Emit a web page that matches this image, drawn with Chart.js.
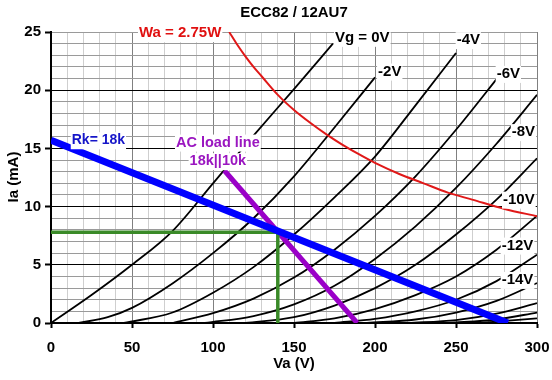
<!DOCTYPE html>
<html>
<head>
<meta charset="utf-8">
<script src="https://cdn.jsdelivr.net/npm/chart.js@4.4.1/dist/chart.umd.min.js"></script>
<style>
  html, body { margin: 0; padding: 0; background: #fff; }
  #wrap { width: 552px; height: 380px; }
</style>
</head>
<body>
<div id="wrap"><canvas id="tubeChart" width="552" height="380"></canvas></div>
<script>
// anode characteristics, [Va (V), Ia (mA)]
const vg0   = [[0,0],[25,2.4],[50,5],[75,7.9],[100,12],[125,16.1],[150,20.1],[174,24]];
const vg2   = [[17,0],[35,0.5],[50,1.3],[75,3.4],[100,6.0],[125,9.0],[150,12.6],[175,16.8],[200,21.1]];
const vg4   = [[45,0],[75,0.9],[100,2.6],[125,4.8],[150,7.6],[175,10.8],[200,14.3],[225,18.7],[250,23.2]];
const vg6   = [[75,0],[100,0.85],[125,2.1],[150,3.9],[175,6.3],[200,9.2],[225,12.6],[250,16.6],[277,21.3]];
const vg8   = [[95,0],[125,0.6],[150,1.6],[175,3.2],[200,5.5],[225,8.3],[250,11.6],[275,15.4],[300,19.6]];
const vg10  = [[120,0],[150,0.5],[175,1.5],[200,3.0],[225,5.0],[250,7.6],[275,10.6],[300,14.15]];
const vg12  = [[150,0],[175,0.4],[200,1.2],[225,2.4],[250,4.0],[275,6.3],[300,9.2]];
const vg14  = [[175,0],[200,0.35],[225,1.0],[250,2.0],[275,3.6],[300,5.86]];
const vg16  = [[195,0],[225,0.3],[250,0.9],[275,1.9],[300,3.43]];
const vg18  = [[220,0],[250,0.25],[275,0.8],[300,1.71]];
const vg20  = [[245,0],[275,0.3],[300,0.9]];
const vg22  = [[265,0],[300,0.4]];
const gridCurves = [vg0, vg2, vg4, vg6, vg8, vg10, vg12, vg14, vg16, vg18, vg20, vg22];

// max dissipation 2.75W
const wa275 = [[110,25],[115,23.9],[120,22.9],[125,22],[130,21.2],[140,19.6],[150,18.3],[160,17.2],[170,16.2],
               [180,15.3],[190,14.5],[200,13.75],[215,12.8],[230,12],[245,11.2],[260,10.6],[280,9.8],[300,9.17]];
const rkLine = [[0,15.7],[282,0]];          // cathode resistor line
const acLine = [[107,13.1],[189,0]];        // AC load line 18k||10k
const opPoint = [[0,7.8],[140,7.8],[140,0]]; // operating point

const notes = [
  {text: 'Vg = 0V', va: 175.3, ia: 24.5, color: '#000', align: 'left', size: 15},
  {text: '-2V', va: 201.9, ia: 21.6, color: '#000', align: 'left', size: 15},
  {text: '-4V', va: 250.4, ia: 24.3, color: '#000', align: 'left', size: 15},
  {text: '-6V', va: 275.1, ia: 21.4, color: '#000', align: 'left', size: 15},
  {text: '-8V', va: 284.4, ia: 16.4, color: '#000', align: 'left', size: 15},
  {text: '-10V', va: 279, ia: 10.6, color: '#000', align: 'left', size: 15},
  {text: '-12V', va: 278.2, ia: 6.65, color: '#000', align: 'left', size: 15},
  {text: '-14V', va: 278.2, ia: 3.7, color: '#000', align: 'left', size: 15},
  {text: 'Wa = 2.75W', va: 54.3, ia: 24.9, color: '#e01010', align: 'left', size: 15},
  {text: 'Rk= 18k', va: 12.8, ia: 15.7, color: '#1515c8', align: 'left', size: 14},
  {text: 'AC load line', va: 103, ia: 15.5, color: '#9a16c0', align: 'center', size: 14.5},
  {text: '18k||10k', va: 103, ia: 13.9, color: '#9a16c0', align: 'center', size: 14.5}
];

const FONT = '"Liberation Sans", Arial, sans-serif';
const pts = arr => arr.map(p => ({x: p[0], y: p[1]}));

const datasets = [
  {data: pts(rkLine), borderColor: '#0000ff', borderWidth: 7, tension: 0},
  {data: pts(opPoint), borderColor: '#3a8a28', borderWidth: 3.5, tension: 0},
  {data: pts(acLine), borderColor: '#9a00c8', borderWidth: 5, tension: 0},
  {data: pts(wa275), borderColor: '#e01818', borderWidth: 2, cubicInterpolationMode: 'monotone'}
];
gridCurves.forEach(c => {
  datasets.push({data: pts(c), borderColor: '#000', borderWidth: 1.8, cubicInterpolationMode: 'monotone'});
});
datasets.forEach(d => { d.showLine = true; d.pointRadius = 0; d.fill = false; });

const notesPlugin = {
  id: 'notes',
  afterDatasetsDraw(chart) {
    const {ctx, scales: {x, y}} = chart;
    ctx.save();
    ctx.textBaseline = 'middle';
    notes.forEach(n => {
      ctx.font = 'bold ' + n.size + 'px ' + FONT;
      const px = x.getPixelForValue(n.va);
      const py = y.getPixelForValue(n.ia);
      const w = ctx.measureText(n.text).width;
      const left = n.align === 'center' ? px - w / 2 : px;
      ctx.fillStyle = '#fff';
      ctx.fillRect(left - 1, py - 8, w + 2, 17);
      ctx.fillStyle = n.color;
      ctx.textAlign = n.align;
      ctx.fillText(n.text, px, py);
    });
    ctx.restore();
  },
  afterDraw(chart) {
    const {ctx, chartArea} = chart;
    const cx = (chartArea.left + chartArea.right) / 2;
    ctx.save();
    ctx.fillStyle = '#000';
    ctx.font = 'bold 15px ' + FONT;
    ctx.textAlign = 'center';
    ctx.textBaseline = 'middle';
    ctx.fillText('ECC82 / 12AU7', cx, 13);
    ctx.fillText('Va (V)', cx, 364);
    ctx.translate(14, 177);
    ctx.rotate(-Math.PI / 2);
    ctx.fillText('Ia (mA)', 0, 0);
    ctx.restore();
  }
};

new Chart(document.getElementById('tubeChart'), {
  type: 'scatter',
  data: {datasets: datasets},
  options: {
    responsive: false,
    animation: false,
    events: [],
    layout: {padding: {top: 32, right: 15, left: 0, bottom: 0}},
    plugins: {legend: {display: false}, tooltip: {enabled: false}},
    scales: {
      x: {
        type: 'linear', min: 0, max: 300,
        afterFit: s => { s.height = 57; s.paddingLeft = 0; s.paddingRight = 0; },
        border: {color: '#000', width: 2},
        grid: {
          color: c => (c.tick && c.tick.value % 50 === 0) ? '#808080' : '#cfcfcf',
          tickColor: c => (c.tick && c.tick.value % 50 === 0) ? '#000' : 'rgba(0,0,0,0)',
          tickLength: 5, tickWidth: 2
        },
        ticks: {
          stepSize: 10, autoSkip: false, maxRotation: 0, padding: 11,
          color: '#000', font: {family: FONT, size: 15, weight: 'bold'},
          callback: v => (v % 50 === 0 ? v : '')
        }
      },
      y: {
        type: 'linear', min: 0, max: 25,
        afterFit: s => { s.width = 51; },
        border: {color: '#000', width: 2},
        grid: {
          color: c => (c.tick && c.tick.value % 5 === 0 && c.tick.value !== 25) ? '#000' : '#9a9a9a',
          tickColor: c => (c.tick && c.tick.value % 5 === 0) ? '#000' : 'rgba(0,0,0,0)',
          tickLength: 6, tickWidth: 2
        },
        ticks: {
          stepSize: 1, autoSkip: false, padding: 4,
          color: '#000', font: {family: FONT, size: 15, weight: 'bold'},
          callback: v => (v % 5 === 0 ? v : '')
        }
      }
    }
  },
  plugins: [notesPlugin]
});
</script>
</body>
</html>
